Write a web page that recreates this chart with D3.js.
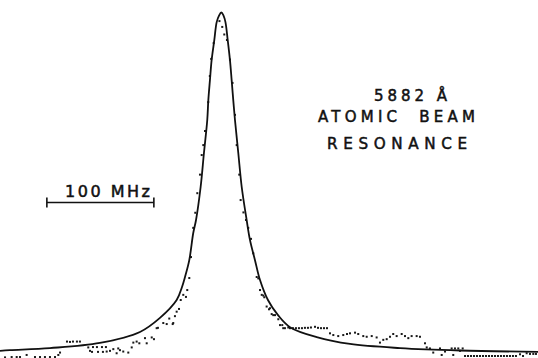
<!DOCTYPE html>
<html>
<head>
<meta charset="utf-8">
<script src="https://cdn.jsdelivr.net/npm/d3@7/dist/d3.min.js"></script>
<style>
html,body{margin:0;padding:0;background:#fff;}
svg{display:block;}
text{font-family:"DejaVu Sans","Liberation Sans",Arial,sans-serif;fill:#111;stroke:#111;stroke-width:0.5;}
</style>
</head>
<body>
<svg id="chart" width="538" height="358"></svg>
<script>
// Fitted resonance curve: frequency offset (MHz) and relative signal (% of peak)
const curveMHz = [-206.8,-197.5,-160.1,-113.4,-76.0,-57.3,-41.7,-36.7,-33.9,-29.9,-26.2,-23.6,-19.3,-16.2,-13.1,-12.1,-10.6,-9.0,-6.5,-4.3,-2.1,0,2.1,3.9,6.0,8.1,9.7,11.2,12.8,15.9,19.1,23.7,26.8,31.5,36.2,43.6,53.0,64.2,89.2,120.3,167.0,223.1,296.0];
const curveSignal = [1.5,1.7,2.3,3.8,7.0,11.1,16.3,20.1,23.0,27.9,35.8,39.6,49.2,59.1,68.7,74.5,80.3,86.2,92.0,97.2,99.1,100,99.1,97.2,92.0,86.2,80.3,74.5,68.7,59.1,49.2,39.6,33.8,27.9,22.1,16.3,11.9,8.4,5.5,3.5,2.3,1.6,1.2];

// Measured data points (MHz, % of peak)
const pointMHz = [
 -1.7,0.9,2.8,-7.1,5.3,-9.4,8.1,-10.7,10.5,-12.2,
 -15.2,-16.8,-18.3,-19.9,-22.4,-24.3,-26.2,-28.3,-29.9,-31.8,-33.0,-35.5,-37.9,-39.5,-41.7,-43.3,-45.4,-44.9,-48.6,-51.0,-54.2,-59.2,-60.4,-62.9,-65.0,-71.3,-69.7,-76.6,-79.1,-82.2,-83.7,-86.9,-91.6,-94.7,-96.3,-97.8,-100.9,-104.0,-107.1,-107.8,-111.5,-116.2,-110.6,-115.2,-120.8,-122.7,-119.9,-124.3,-132.1,-134.9,-138.6,-141.4,-144.2,-150.7,-152.3,-155.4,-160.1,-164.8,-169.4,-174.1,-181.9,-188.1,-191.2,-195.9,-202.1,
 12.8,14.4,16.8,18.1,20.7,23.1,25.2,27.8,29.9,33.1,34.6,36.2,37.8,39.3,40.2,42.4,44.6,45.5,47.1,48.6,50.2,53.3,54.9,57.0,57.9,59.5,62.6,64.2,67.0,69.8,72.6,75.4,78.2,81.0,83.8,87.6,90.4,93.2,96.0,98.8,101.6,104.7,109.3,114.0,117.5,120.3,125.0,128.0,132.7,135.9,140.6,145.2,148.3,151.4,154.6,157.7,160.7,163.9,168.6,171.7,174.8,177.9,182.6,185.7,190.4,192.0,195.0,198.1,204.4,206.0,209.1,215.3,216.8,218.4,221.5,223.1,225.6,227.8,230.6,233.4,236.2,239.0,241.8,244.6,247.4,250.2,253.0,255.8,258.6,261.4,264.2,267.0,269.8,272.6,275.4,279.2,282.0,285.4,288.5,291.6,294.1
];
const pointSignal = [
 97.5,95.8,93.6,91.1,92.0,86.5,86.3,81.5,79.5,73.9,
 65.5,61.4,58.5,52.8,47.4,41.7,37.3,28.8,22.7,19.2,17.2,17.8,16.3,13.7,12.9,11.6,9.3,9.6,10.9,9.3,9.6,8.2,8.1,4.9,5.4,5.2,3.7,3.7,4.2,3.9,2.5,1.0,1.3,1.7,2.2,0.8,2.0,1.5,1.3,2.6,2.6,2.6,1.2,1.2,1.2,1.5,2.6,2.5,4.2,4.2,4.2,4.1,4.2,1.0,0.3,-0.3,-0.3,-0.3,-0.3,-0.3,0.3,-0.3,-0.3,-0.3,-0.4,
 70.2,61.4,52.8,45.4,41.8,39.6,37.3,34.1,29.9,23.0,22.6,19.2,17.8,17.6,17.1,14.4,13.6,13.9,12.2,11.9,11.9,10.7,9.0,9.0,8.1,8.1,8.3,8.1,8.1,8.1,8.1,8.1,8.2,8.2,8.3,8.5,8.2,8.1,8.1,8.1,6.6,6.1,5.8,6.1,6.4,6.6,6.8,6.4,5.8,5.6,5.8,5.4,3.9,4.7,4.9,5.6,6.4,5.8,6.4,5.8,5.2,5.8,5.8,5.6,3.7,2.5,2.2,1.0,2.2,0.3,1.3,2.2,0.3,2.2,2.2,1.5,2.2,0,0,0,0,0,0,0,0,0,0,0,0,0,0,0,0,0,0,0.5,0,0.8,0.6,0.6,0.6
];

// Scale bar (MHz)
const scaleBarStart = -163;
const scaleBarLength = 100;
const scaleBarLabel = "100 MHz";

// Annotation lines
const titleLines = ["5882 Å", "ATOMIC  BEAM", "RESONANCE"];

const W = 538, H = 358;
const svg = d3.select("#chart");
svg.append("rect").attr("width", W).attr("height", H).attr("fill", "#fff");

const x = d3.scaleLinear().domain([-206.8, 296]).range([0, W]);
const y = d3.scaleLinear().domain([0, 100]).range([356, 12.5]);

// data points
const pts = pointMHz.map((m, i) => ({m, s: pointSignal[i]}));
svg.append("g").selectAll("rect").data(pts).join("rect")
  .attr("x", d => x(d.m) - 1)
  .attr("y", d => y(d.s) - 1)
  .attr("width", 2).attr("height", 2)
  .attr("fill", "#1a1a1a");

// fitted curve
const cdata = curveMHz.map((m, i) => ({m, s: curveSignal[i]}));
const line = d3.line().x(d => x(d.m)).y(d => y(d.s)).curve(d3.curveCatmullRom.alpha(0.5));
svg.append("path").datum(cdata).attr("d", line)
  .attr("fill", "none").attr("stroke", "#111").attr("stroke-width", 1.8)
  .attr("stroke-linejoin", "round");

// scale bar
const bx0 = x(scaleBarStart), bx1 = x(scaleBarStart + scaleBarLength), by = 202.5;
const bar = svg.append("g").attr("stroke", "#111").attr("stroke-width", 1.6);
bar.append("line").attr("x1", bx0).attr("x2", bx1).attr("y1", by).attr("y2", by);
bar.append("line").attr("x1", bx0).attr("x2", bx0).attr("y1", by - 5).attr("y2", by + 5);
bar.append("line").attr("x1", bx1).attr("x2", bx1).attr("y1", by - 5).attr("y2", by + 5);
svg.append("text").attr("x", 65).attr("y", 196.5)
  .attr("font-size", 16).attr("textLength", 85).attr("lengthAdjust", "spacing")
  .style("white-space", "pre").text(scaleBarLabel);

// annotation
svg.append("text").attr("x", 374).attr("y", 100.5).attr("font-size", 15)
  .attr("textLength", 73).attr("lengthAdjust", "spacing")
  .style("white-space", "pre").text(titleLines[0]);
svg.append("text").attr("x", 318).attr("y", 121.5).attr("font-size", 15)
  .attr("textLength", 157).attr("lengthAdjust", "spacing")
  .style("white-space", "pre").text(titleLines[1]);
svg.append("text").attr("x", 327).attr("y", 148.5).attr("font-size", 15.2)
  .attr("textLength", 140).attr("lengthAdjust", "spacing").text(titleLines[2]);
</script>
</body>
</html>
